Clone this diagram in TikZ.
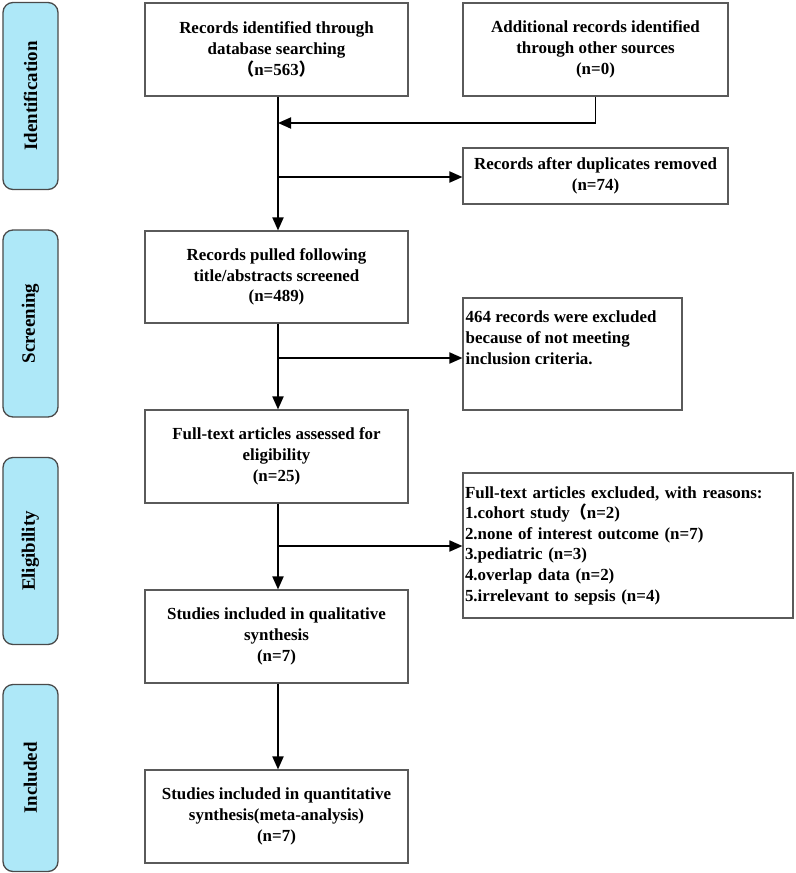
\documentclass[tikz,border=0pt]{standalone}
\usepackage{fontspec}
\setmainfont{Liberation Serif}
\newfontfamily\cjk{Noto Sans CJK SC}
\usetikzlibrary{arrows.meta,positioning}
\definecolor{phasefill}{HTML}{AEE8F8}
\definecolor{phaseline}{HTML}{4A4A4A}
\definecolor{boxline}{HTML}{5A5A5A}
\tikzset{
  phase/.style={draw=phaseline, line width=1.3bp, fill=phasefill, rounded corners=10bp,
    minimum width=55bp, minimum height=187bp, inner sep=0pt,
    font=\fontsize{19}{22}\selectfont\bfseries},
  box/.style={draw=boxline, line width=1.1bp, align=center, inner sep=0pt,
    font=\fontsize{17}{20.8}\selectfont\bfseries},
  lbox/.style={draw=boxline, line width=1.1bp, align=left, inner sep=0pt,
    font=\fontsize{17}{20.7}\selectfont\bfseries},
  flow/.style={line width=1.8bp, -{Triangle[length=13bp,width=11bp]}},
  plain/.style={line width=1.8bp}
}
\begin{document}
\begin{tikzpicture}[x=1bp,y=1bp]
\useasboundingbox (0,0) rectangle (796,-873);
% phase labels
\node[phase] (p1) at (30.5,-96) {\rotatebox{90}{Identification}};
\node[phase] (p2) at (30.5,-323.5) {\rotatebox{90}{Screening}};
\node[phase] (p3) at (30.5,-551) {\rotatebox{90}{Eligibility}};
\node[phase] (p4) at (30.5,-778) {\rotatebox{90}{Included}};
% boxes
\node[box, minimum width=263bp, minimum height=93bp] (b1) at (276.5,-49.5)
  {Records identified through\\database searching\\{\cjk （}n=563{\cjk ）}};
\node[box, minimum width=265bp, minimum height=93bp] (b2) at (595.5,-49.5)
  {Additional records identified\\through other sources\\(n=0)};
\node[box, minimum width=265bp, minimum height=56bp] (b3) at (595.5,-176)
  {Records after duplicates removed\\(n=74)};
\node[box, minimum width=263bp, minimum height=92bp] (b4) at (276.5,-277)
  {Records pulled following\\title/abstracts screened\\(n=489)};
\node[box, minimum width=219bp, minimum height=112bp] (b5) at (572.5,-354) {};
\node[anchor=north west, align=left, inner sep=0pt, font=\fontsize{17}{21}\selectfont\bfseries] (t5)
  at ([shift={(3,-13)}]b5.north west)
  {464 records were excluded\\because of not meeting\\inclusion criteria.};
\node[box, minimum width=263bp, minimum height=93bp] (b6) at (276.5,-456.5)
  {Full-text articles assessed for\\eligibility\\(n=25)};
\node[lbox, minimum width=330bp, minimum height=145bp, text width=326bp] (b7) at (628,-545.5)
  {Full-text articles excluded, with reasons:\\
   1.cohort study{\cjk （}n=2)\\
   2.none of interest outcome (n=7)\\
   3.pediatric (n=3)\\
   4.overlap data (n=2)\\
   5.irrelevant to sepsis (n=4)};
\node[box, minimum width=263bp, minimum height=93bp] (b8) at (276.5,-636.5)
  {Studies included in qualitative\\synthesis\\(n=7)};
\node[box, minimum width=263bp, minimum height=93bp] (b9) at (276.5,-816.5)
  {Studies included in quantitative\\synthesis(meta-analysis)\\(n=7)};
% junctions
\coordinate (m1) at (278,-123);
\coordinate (j1) at (278,-177);
\coordinate (j2) at (278,-358);
\coordinate (j3) at (278,-546);
% connectors
\draw[flow] (b1.south -| m1) -- (b4.north -| m1);
\draw[flow] (b2.south) |- (m1);
\draw[flow] (j1) -- (j1 -| b3.west);
\draw[flow] (b4.south -| j2) -- (b6.north -| j2);
\draw[flow] (j2) -- (j2 -| b5.west);
\draw[flow] (b6.south -| j3) -- (b8.north -| j3);
\draw[flow] (j3) -- (j3 -| b7.west);
\draw[flow] (b8.south -| j3) -- (b9.north -| j3);
\end{tikzpicture}
\end{document}
